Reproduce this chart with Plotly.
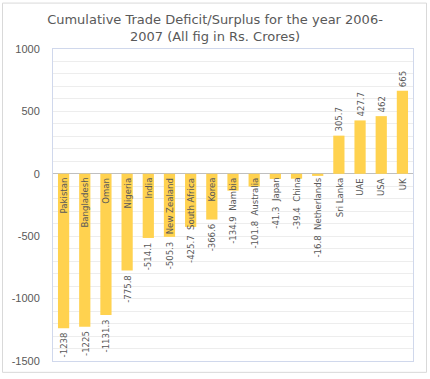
import plotly.graph_objects as go

categories = ["Pakistan", "Bangladesh", "Oman", "Nigeria", "India", "New Zealand",
              "South Africa", "Korea", "Nambia", "Australia", "Japan", "China",
              "Netherlands", "Sri Lanka", "UAE", "USA", "UK"]
values = [-1238, -1225, -1131.3, -775.8, -514.1, -505.3, -425.7, -366.6, -134.9,
          -101.8, -41.3, -39.4, -16.8, 305.7, 427.7, 462, 665]
value_labels = ["-1238", "-1225", "-1131.3", "-775.8", "-514.1", "-505.3", "-425.7",
                "-366.6", "-134.9", "-101.8", "-41.3", "-39.4", "-16.8", "305.7",
                "427.7", "462", "665"]
y_ticks = [1000, 500, 0, -500, -1000, -1500]

W, H = 430, 379
ML, MR, MT, MB = 53, 17, 49, 14
YMIN, YMAX = -1500, 1000
plot_h = H - MT - MB
px_per_unit = plot_h / (YMAX - YMIN)

label_font = dict(family="Liberation Sans Narrow, DejaVu Sans Condensed, Arial Narrow, sans-serif",
                  size=9.5, color="#595959")
BAR = "#FFD24F"

fig = go.Figure(go.Bar(x=categories, y=values, marker=dict(color=BAR, line=dict(width=0)),
                       hoverinfo="x+y"))

annotations = []
for name, v, vl in zip(categories, values, value_labels):
    est_len = len(name) * 4.5 + 4
    depth = -v * px_per_unit
    if v < 0 and depth < est_len:
        annotations.append(dict(x=name, y=0, text=f"{vl}  {name}", textangle=-90,
                                showarrow=False, yanchor="top", yshift=-2, font=label_font))
    else:
        annotations.append(dict(x=name, y=0, text=name, textangle=-90, showarrow=False,
                                yanchor="top", yshift=-2, font=label_font))
        if v < 0:
            annotations.append(dict(x=name, y=v, text=vl, textangle=-90, showarrow=False,
                                    yanchor="top", yshift=-2, font=label_font))
        else:
            annotations.append(dict(x=name, y=v, text=vl, textangle=-90, showarrow=False,
                                    yanchor="bottom", yshift=2, font=label_font))

pw = W - ML - MR
shapes = [dict(type="rect", xref="paper", yref="paper",
               x0=(2.5 - ML) / pw, x1=(426.5 - ML) / pw,
               y0=-(376.5 - (H - MB)) / plot_h, y1=((H - MB) - 2.5) / plot_h,
               line=dict(color="#D9D9D9", width=1), fillcolor="rgba(0,0,0,0)", layer="below")]

fig.update_layout(
    width=W, height=H,
    margin=dict(l=ML, r=MR, t=MT, b=MB),
    paper_bgcolor="white", plot_bgcolor="white",
    bargap=0.47,
    showlegend=False,
    title=dict(text="Cumulative Trade Deficit/Surplus for the year 2006-<br>2007 (All fig in Rs. Crores)",
               x=(215 / W), xref="container", xanchor="center",
               y=1 - 24 / H, yref="container", yanchor="middle",
               font=dict(family="DejaVu Sans", size=13, color="#595959")),
    xaxis=dict(showticklabels=False, ticks="", showgrid=False,
               showline=True, linecolor="#D0D8EC", linewidth=1, mirror=True),
    yaxis=dict(range=[YMIN, YMAX], tickvals=y_ticks, ticktext=[str(t) for t in y_ticks],
               showgrid=True, gridcolor="#EDEDED", gridwidth=1,
               minor=dict(dtick=100, showgrid=True, gridcolor="#EDEDED", gridwidth=1),
               zeroline=True, zerolinecolor="#BFBFBF", zerolinewidth=1,
               showline=True, linecolor="#D0D8EC", linewidth=1, mirror=True,
               ticks="", ticklabelstandoff=10,
               tickfont=dict(family="Liberation Sans, Arial, sans-serif", size=11, color="#595959")),
    annotations=annotations,
    shapes=shapes,
)

fig.write_html("out.html", config={"displayModeBar": False},
               post_script="document.body.style.margin='0';")
